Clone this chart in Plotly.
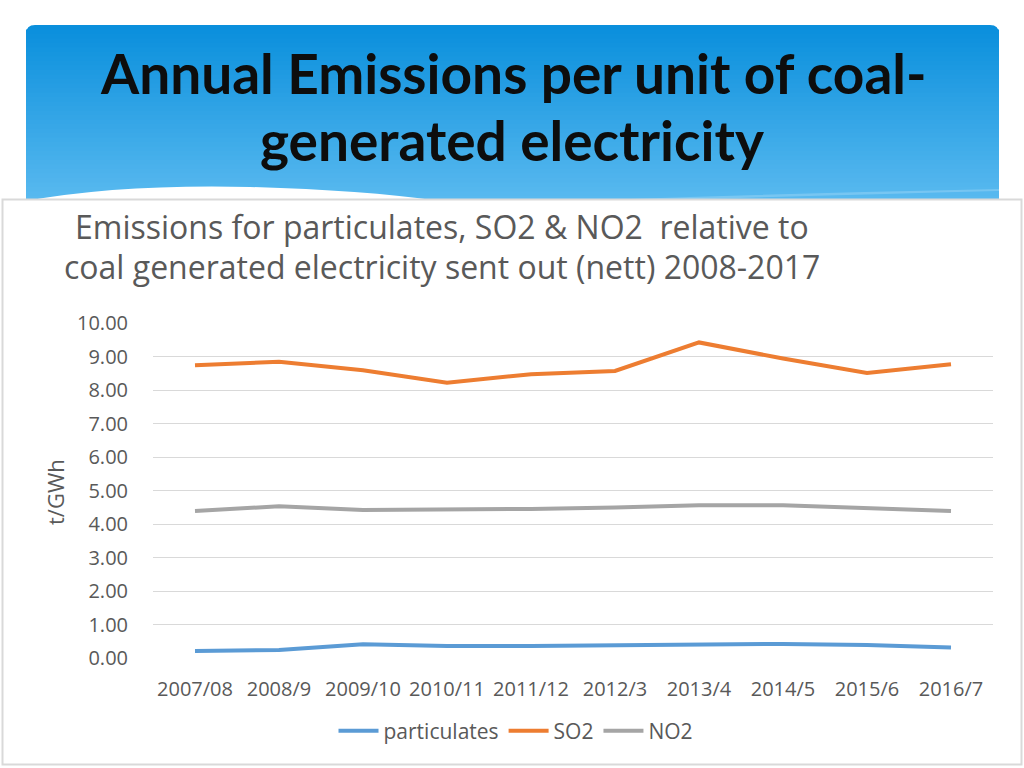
import plotly.graph_objects as go

# ---- data ----
categories = ["2007/08", "2008/9", "2009/10", "2010/11", "2011/12",
              "2012/3", "2013/4", "2014/5", "2015/6", "2016/7"]
particulates = [0.21, 0.24, 0.41, 0.36, 0.36, 0.39, 0.39, 0.42, 0.39, 0.31]
so2 = [8.74, 8.84, 8.59, 8.22, 8.47, 8.57, 9.42, 8.94, 8.51, 8.77]
no2 = [4.39, 4.53, 4.42, 4.42, 4.45, 4.49, 4.56, 4.56, 4.46, 4.39]
y_ticks = [0, 1, 2, 3, 4, 5, 6, 7, 8, 9, 10]

W, H = 1024, 768
L, R, T, B = 153, 993, 323, 658  # plot area in px


def px(x):
    return (x - L) / (R - L)


def py(y):
    return (B - y) / (B - T)


HFONT = "Lato, 'Open Sans', sans-serif"
FONT = "'Open Sans', 'Noto Sans', sans-serif"
GRAY = "#595959"

fig = go.Figure()
fig.add_trace(go.Scatter(x=categories, y=particulates, name="particulates", mode="lines",
                         line=dict(color="#5b9bd5", width=4)))
fig.add_trace(go.Scatter(x=categories, y=so2, name="SO2", mode="lines",
                         line=dict(color="#ed7d31", width=4)))
fig.add_trace(go.Scatter(x=categories, y=no2, name="NO2", mode="lines",
                         line=dict(color="#a5a5a5", width=4)))

shapes = []
# header gradient (strips)
top_c = (10, 143, 220)
bot_c = (90, 186, 240)
n = 40
y0, y1 = 25, 205
for i in range(n):
    t = i / (n - 1)
    c = tuple(int(round(top_c[k] + (bot_c[k] - top_c[k]) * t)) for k in range(3))
    ya = y0 + (y1 - y0) * i / n
    yb = y0 + (y1 - y0) * (i + 1) / n + 0.6
    if i == 0:
        r = 9
        path = (f"M {px(26)},{py(yb)} L {px(26)},{py(ya + r)} Q {px(26)},{py(ya)} {px(26 + r)},{py(ya)} "
                f"L {px(999 - r)},{py(ya)} Q {px(999)},{py(ya)} {px(999)},{py(ya + r)} L {px(999)},{py(yb)} Z")
        shapes.append(dict(type="path", xref="paper", yref="paper", path=path,
                           fillcolor=f"rgb{c}", line=dict(width=0), layer="below"))
    else:
        shapes.append(dict(type="rect", xref="paper", yref="paper",
                           x0=px(26), x1=px(999), y0=py(yb), y1=py(ya),
                           fillcolor=f"rgb{c}", line=dict(width=0), layer="below"))
# white wave at header bottom-left
wave = (f"M {px(26)},{py(201)} Q {px(120)},{py(184)} {px(250)},{py(187)} "
        f"Q {px(360)},{py(190)} {px(440)},{py(201)} Z")
shapes.append(dict(type="path", xref="paper", yref="paper", path=wave,
                   fillcolor="white", line=dict(width=0), layer="below"))
# faint light streak right
streak = (f"M {px(600)},{py(200)} Q {px(800)},{py(193)} {px(999)},{py(189)} L {px(999)},{py(191)} "
          f"Q {px(800)},{py(196)} {px(640)},{py(201)} Z")
shapes.append(dict(type="path", xref="paper", yref="paper", path=streak,
                   fillcolor="rgba(255,255,255,0.2)", line=dict(width=0), layer="below"))
# chart box
shapes.append(dict(type="rect", xref="paper", yref="paper",
                   x0=px(2.5), x1=px(1021.5), y0=py(764.5), y1=py(199.5),
                   fillcolor="white", line=dict(color="#d9d9d9", width=2), layer="below"))

annotations = [
    dict(text="<b>Annual Emissions per unit of coal-</b>", x=px(513), y=py(73), xref="paper", yref="paper",
         showarrow=False, xanchor="center", yanchor="middle",
         font=dict(family=HFONT, size=55, color="#0d0d0d")),
    dict(text="<b>generated electricity</b>", x=px(512), y=py(140), xref="paper", yref="paper",
         showarrow=False, xanchor="center", yanchor="middle",
         font=dict(family=HFONT, size=55, color="#0d0d0d")),
    dict(text="Emissions for particulates, SO2 &amp; NO2  relative to", x=px(442), y=py(227),
         xref="paper", yref="paper", showarrow=False, xanchor="center", yanchor="middle",
         font=dict(family=FONT, size=32, color=GRAY)),
    dict(text="coal generated electricity sent out (nett) 2008-2017", x=px(442), y=py(266),
         xref="paper", yref="paper", showarrow=False, xanchor="center", yanchor="middle",
         font=dict(family=FONT, size=32, color=GRAY)),
    dict(text="t/GWh", x=px(55), y=py(492), xref="paper", yref="paper", textangle=-90,
         showarrow=False, xanchor="center", yanchor="middle",
         font=dict(family=FONT, size=22, color=GRAY)),
]

fig.update_layout(
    width=W, height=H, autosize=False,
    margin=dict(l=L, r=W - R, t=T, b=H - B, pad=0),
    paper_bgcolor="white", plot_bgcolor="rgba(0,0,0,0)",
    shapes=shapes, annotations=annotations,
    font=dict(family=FONT, color=GRAY),
    legend=dict(orientation="h", x=px(516), y=py(731), xanchor="center", yanchor="middle",
                font=dict(family=FONT, size=21, color=GRAY), bgcolor="rgba(0,0,0,0)",
                itemwidth=40),
    showlegend=True,
)
fig.update_xaxes(type="category", categoryorder="array", categoryarray=categories,
                 showgrid=False, zeroline=False, showline=False, tickangle=0,
                 ticks="outside", ticklen=13, tickcolor="rgba(0,0,0,0)",
                 tickfont=dict(family=FONT, size=20, color=GRAY), range=[-0.5, 9.5])
fig.update_yaxes(range=[0, 10], tickvals=y_ticks, tickformat=".2f",
                 showgrid=True, gridcolor="#d9d9d9", gridwidth=1, zeroline=False, showline=False,
                 ticks="outside", ticklen=20, tickcolor="rgba(0,0,0,0)",
                 tickfont=dict(family=FONT, size=20, color=GRAY))

fig.write_html("out.html", config={"displayModeBar": False},
               post_script="document.body.style.margin='0';document.body.style.overflow='hidden';")
